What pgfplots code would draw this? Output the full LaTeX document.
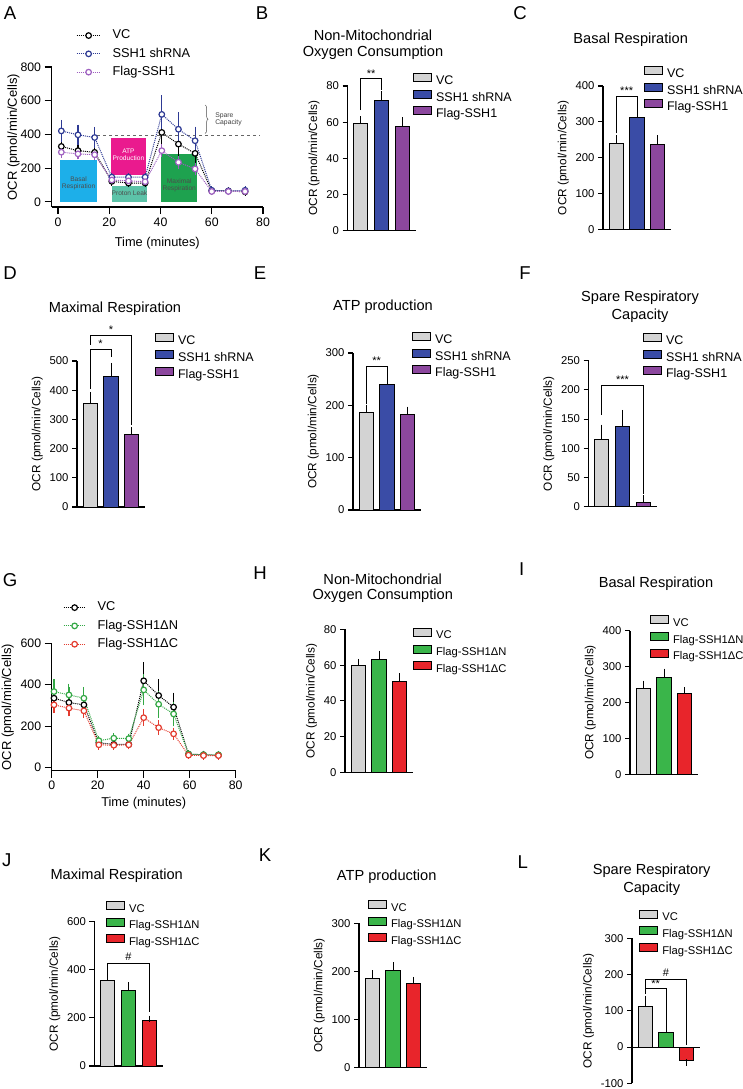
\documentclass[border=0pt]{standalone}
\usepackage{pgfplots}
\pgfplotsset{compat=1.18}
\usepackage{pgfplotstable}
\usepackage{fontspec}
\setmainfont{Liberation Sans}
\usetikzlibrary{decorations.pathreplacing}

\definecolor{cvc}{HTML}{D3D3D3}
\definecolor{cblue}{HTML}{3A4CA6}
\definecolor{cpurp}{HTML}{8C479E}
\definecolor{cgreen}{HTML}{3AB54A}
\definecolor{cred}{HTML}{E8252B}
\definecolor{lblue}{HTML}{2E3A94}
\definecolor{lpurp}{HTML}{9E5FC0}
\definecolor{lgreen}{HTML}{33A845}
\definecolor{lred}{HTML}{E33B2E}
\definecolor{bxbasal}{HTML}{1DAFE9}
\definecolor{bxatp}{HTML}{EA1A8E}
\definecolor{bxleak}{HTML}{5CC3A8}
\definecolor{bxmax}{HTML}{1EA24F}

\pgfplotsset{
  base/.style={
    scale only axis, clip=false,
    axis lines=left, axis line style={-, line width=1.1pt, black},
    tick align=outside, major tick length=5pt,
    tick style={line width=1.1pt, black},
    /pgf/number format/assume math mode=true,
    ticklabel style={font=\fontsize{11.3}{12}\selectfont},
    ylabel={OCR (pmol/min/Cells)},
    ylabel style={font=\fontsize{11.8}{12}\selectfont},
    legend cell align=left,
  },
  bp/.style={base, width=68pt, xmin=0.36, xmax=3.64, xtick=\empty, ymin=0,
    legend style={draw=none, fill=none, inner sep=0pt, anchor=north west,
      font=\fontsize{12.5}{13}\selectfont, row sep=2.4pt,
      nodes={inner sep=0pt, text height=9.3pt, text depth=2.8pt},
      /tikz/every odd column/.append style={column sep=4pt}},
  },
  gp/.style={bp, legend style={font=\fontsize{11.2}{12}\selectfont, row sep=3pt,
      nodes={inner sep=0pt, text height=8.6pt, text depth=2.6pt}}},
  mybar/.style={ybar, bar width=0.68, bar shift=0pt, draw=black, line width=1pt,
    legend image code/.code={\draw[##1, line width=0.9pt] (0pt,-0.3pt) rectangle (18pt,7.7pt);},
    error bars/y dir=plus, error bars/y explicit,
    error bars/error bar style={line width=1pt, black},
    error bars/error mark options={mark size=3.3pt, line width=1pt, black}},
  lp/.style={base, major tick length=7pt,
    ticklabel style={font=\fontsize{12.3}{13}\selectfont},
    ylabel style={font=\fontsize{13}{13}\selectfont},
    xlabel style={font=\fontsize{12.8}{13}\selectfont},
    legend style={draw=none, fill=none, inner sep=0pt, anchor=north west,
      font=\fontsize{12.8}{13}\selectfont, row sep=6pt,
      nodes={inner sep=0pt, text height=9.5pt, text depth=2.8pt},
      /tikz/every odd column/.append style={column sep=11.5pt}},
    legend image code/.code={\draw[mark repeat=2,mark phase=2,##1] plot coordinates {(0pt,0pt) (12pt,0pt) (24pt,0pt)};},
  },
  serie/.style={densely dotted, line width=1pt, mark=*, mark size=2.8pt,
    mark options={solid, line width=1.2pt, fill=white},
    error bars/y dir=both, error bars/y explicit,
    error bars/error bar style={solid, line width=1.1pt},
    error bars/error mark options={solid, mark size=3pt, line width=1.1pt}},
}

\pgfplotstableread{
t    vc  vce  sh  she  fl  fle
1.3  329 38   421 48   295 15
7.8  304 32   398 43   285 15
14.3 294 30   382 45   280 15
21.0 122 8    147 8    130 8
27.5 112 6    147 8    125 8
34.0 112 6    147 8    120 8
40.5 412 75   519 95   304 20
47.0 343 65   431 82   235 20
53.5 288 55   363 65   196 20
60.0 65  5    69  5    62  5
66.5 65  5    65  5    62  5
73.0 60  5    69  5    62  5
}\dataA

\pgfplotstableread{
t    vc  vce  dn  dne  dc  dce
1.0  335 40   367 46   303 25
7.5  314 35   351 40   287 25
14.0 303 30   335 40   274 20
20.5 120 10   130 10   110 10
27.0 112 8    142 10   108 8
33.5 112 8    140 10   110 8
40.0 419 75   375 60   241 25
46.5 348 65   306 50   193 20
53.0 292 55   259 45   163 15
59.5 65  5    65  5    60  5
66.0 62  5    62  5    58  5
72.5 60  5    62  5    58  5
}\dataG

\newcommand{\ttl}[3]{\node[font=\fontsize{14.6}{15}\selectfont, inner sep=0pt] at (#1pt,-#2pt) {#3};}
\newcommand{\lett}[3]{\node[font=\fontsize{18.6}{19}\selectfont, inner sep=0pt] at (#1pt,-#2pt) {#3};}
\newcommand{\sig}{\fontsize{11}{11}\selectfont}

\begin{document}
\begin{tikzpicture}
\path[use as bounding box] (0pt,0pt) rectangle (742pt,-1089pt);

% ---------------- A ----------------
\begin{axis}[lp, at={(51.6pt,-207pt)}, anchor=south west, width=211.4pt, height=140pt,
  xmin=-2.5, xmax=80, ymin=-30, ymax=800, ytick={0,200,...,800}, xtick={0,20,...,80},
  xlabel={Time (minutes)}, xlabel style={yshift=-4pt}, ylabel shift=-6pt,
  legend style={at={(0.115,1.27)}}]
\fill[bxbasal] (axis cs:0.7,0) rectangle (axis cs:15.3,250);
\fill[bxatp] (axis cs:20.7,160) rectangle (axis cs:34.4,380);
\fill[bxleak] (axis cs:21,0) rectangle (axis cs:34.8,95);
\fill[bxmax] (axis cs:40.2,0) rectangle (axis cs:54.3,285);
\draw[dashed, line width=0.5pt, black!60] (axis cs:15.3,395) -- (axis cs:79,395);
\node[align=center, font=\fontsize{6.6}{7.6}\selectfont, text=black!70] at (axis cs:8,110) {Basal\\Respiration};
\node[align=center, font=\fontsize{6.6}{7.6}\selectfont, text=white] at (axis cs:27.5,280) {ATP\\Production};
\node[align=center, font=\fontsize{6.6}{7.6}\selectfont, text=black!70] at (axis cs:27.9,50) {Proton Leak};
\node[align=center, font=\fontsize{6.6}{7.6}\selectfont, text=black!70] at (axis cs:47.3,98) {Maximal\\Respiration};
\draw[decorate, decoration={brace, amplitude=3pt}, line width=0.5pt, black!70] (axis cs:57.4,575) -- (axis cs:57.4,406);
\node[anchor=west, align=left, font=\fontsize{6.8}{7.8}\selectfont, text=black!75] at (axis cs:60,490) {Spare\\Capacity};
\addplot[black, serie] table[x=t, y=vc, y error=vce] {\dataA};
\addplot[lblue, serie] table[x=t, y=sh, y error=she] {\dataA};
\addplot[lpurp, serie] table[x=t, y=fl, y error=fle] {\dataA};
\legend{VC, SSH1 shRNA, Flag-SSH1}
\end{axis}

% ---------------- B ----------------
\begin{axis}[bp, at={(347.5pt,-230.5pt)}, anchor=south west, height=144.5pt, ymax=80, ytick={0,20,...,80},
  legend style={at={(0.963,1.09)}}]
\addplot[fill=cvc, mybar] coordinates {(1,59.5) +- (0,2)};
\addplot[fill=cblue, mybar] coordinates {(2,72) +- (0,3.3)};
\addplot[fill=cpurp, mybar] coordinates {(3,57.8) +- (0,3)};
\legend{VC, SSH1 shRNA, Flag-SSH1}
\draw[line width=1pt] (axis cs:1,66.7) |- (axis cs:2,83.9) -- (axis cs:2,77.8);
\node[anchor=south, inner sep=1.5pt, font=\sig] at (axis cs:1.5,83.9) {**};
\end{axis}

% ---------------- C ----------------
\begin{axis}[bp, at={(603pt,-229.5pt)}, anchor=south west, height=143.5pt, ymax=400, ytick={0,100,...,400},
  legend style={at={(0.603,1.14)}}]
\addplot[fill=cvc, mybar] coordinates {(1,240) +- (0,14)};
\addplot[fill=cblue, mybar] coordinates {(2,312) +- (0,16)};
\addplot[fill=cpurp, mybar] coordinates {(3,238) +- (0,15)};
\legend{VC, SSH1 shRNA, Flag-SSH1}
\draw[line width=1pt] (axis cs:1,268) |- (axis cs:2,372) -- (axis cs:2,333);
\node[anchor=south, inner sep=1.5pt, font=\sig] at (axis cs:1.5,372) {***};
\end{axis}

% ---------------- D ----------------
\begin{axis}[bp, at={(77pt,-507pt)}, anchor=south west, height=146pt, ymax=500, ytick={0,100,...,500},
  legend style={at={(1.147,1.19)}}]
\addplot[fill=cvc, mybar] coordinates {(1,355) +- (0,28)};
\addplot[fill=cblue, mybar] coordinates {(2,447) +- (0,35)};
\addplot[fill=cpurp, mybar] coordinates {(3,247) +- (0,15)};
\legend{VC, SSH1 shRNA, Flag-SSH1}
\draw[line width=1pt] (axis cs:1,405) |- (axis cs:2,541) -- (axis cs:2,515);
\node[anchor=south, inner sep=1.5pt, font=\sig] at (axis cs:1.5,541) {*};
\draw[line width=1pt] (axis cs:1,555) |- (axis cs:3,589) -- (axis cs:3,280);
\node[anchor=south, inner sep=1.5pt, font=\sig] at (axis cs:2,589) {*};
\end{axis}

% ---------------- E ----------------
\begin{axis}[bp, at={(353pt,-510pt)}, anchor=south west, height=157pt, ymax=300, ytick={0,100,...,300},
  legend style={at={(0.868,1.134)}}]
\addplot[fill=cvc, mybar] coordinates {(1,187) +- (0,8)};
\addplot[fill=cblue, mybar] coordinates {(2,240) +- (0,12)};
\addplot[fill=cpurp, mybar] coordinates {(3,182) +- (0,9)};
\legend{VC, SSH1 shRNA, Flag-SSH1}
\draw[line width=1pt] (axis cs:1,203) |- (axis cs:2,275) -- (axis cs:2,252);
\node[anchor=south, inner sep=1.5pt, font=\sig] at (axis cs:1.5,275) {**};
\end{axis}

% ---------------- F ----------------
\begin{axis}[bp, at={(588.5pt,-506.7pt)}, anchor=south west, height=146pt, ymax=250, ytick={0,50,...,250},
  legend style={at={(0.801,1.19)}}]
\addplot[fill=cvc, mybar] coordinates {(1,115) +- (0,20)};
\addplot[fill=cblue, mybar] coordinates {(2,137) +- (0,23)};
\addplot[fill=cpurp, mybar] coordinates {(3,7) +- (0,7)};
\legend{VC, SSH1 shRNA, Flag-SSH1}
\draw[line width=1pt] (axis cs:1,157) |- (axis cs:3,207) -- (axis cs:3,22);
\node[anchor=south, inner sep=2.5pt, font=\sig] at (axis cs:2,207) {***};
\end{axis}

% ---------------- G ----------------
\begin{axis}[lp, at={(51.7pt,-770.7pt)}, anchor=south west, width=184pt, height=127.4pt,
  xmin=0, xmax=80, ymin=-15, ymax=600, ytick={0,200,...,600}, xtick={0,20,...,80},
  xlabel={Time (minutes)}, legend style={at={(0.061,1.33)}},
  legend image code/.code={\draw[mark repeat=2,mark phase=2,#1] plot coordinates {(0pt,0pt) (11pt,0pt) (22pt,0pt)};}]
\addplot[black, serie] table[x=t, y=vc, y error=vce] {\dataG};
\addplot[lgreen, serie] table[x=t, y=dn, y error=dne] {\dataG};
\addplot[lred, serie] table[x=t, y=dc, y error=dce] {\dataG};
\legend{VC, Flag-SSH1ΔN, Flag-SSH1ΔC}
\end{axis}

% ---------------- H ----------------
\begin{axis}[gp, at={(345pt,-772.5pt)}, anchor=south west, height=143.2pt, ymax=80, ytick={0,20,...,80},
  legend style={at={(1.0,1.012)}}]
\addplot[fill=cvc, mybar] coordinates {(1,59.6) +- (0,2)};
\addplot[fill=cgreen, mybar] coordinates {(2,62.9) +- (0,3.3)};
\addplot[fill=cred, mybar] coordinates {(3,51.1) +- (0,2.4)};
\legend{VC, Flag-SSH1ΔN, Flag-SSH1ΔC}
\end{axis}

% ---------------- I ----------------
\begin{axis}[gp, at={(630pt,-774.3pt)}, anchor=south west, height=143.6pt, ymax=400, ytick={0,100,...,400},
  legend style={at={(0.294,1.11)}}]
\addplot[fill=cvc, mybar] coordinates {(1,239) +- (0,13)};
\addplot[fill=cgreen, mybar] coordinates {(2,270) +- (0,15)};
\addplot[fill=cred, mybar] coordinates {(3,224) +- (0,10)};
\legend{VC, Flag-SSH1ΔN, Flag-SSH1ΔC}
\end{axis}

% ---------------- J ----------------
\begin{axis}[gp, at={(94.5pt,-1066pt)}, anchor=south west, height=144.3pt, ymax=600, ytick={0,200,...,600},
  legend style={at={(0.169,1.145)}}]
\addplot[fill=cvc, mybar] coordinates {(1,355) +- (0,30)};
\addplot[fill=cgreen, mybar] coordinates {(2,312) +- (0,23)};
\addplot[fill=cred, mybar] coordinates {(3,188) +- (0,8)};
\legend{VC, Flag-SSH1ΔN, Flag-SSH1ΔC}
\draw[line width=1pt] (axis cs:1,392) |- (axis cs:3,427) -- (axis cs:3,226);
\node[anchor=south, inner sep=2.5pt, font=\sig] at (axis cs:2,427) {\#};
\end{axis}

% ---------------- K ----------------
\begin{axis}[gp, at={(359pt,-1067.7pt)}, anchor=south west, height=144.4pt, ymax=300, ytick={0,100,...,300},
  legend style={at={(0.132,1.163)}}]
\addplot[fill=cvc, mybar] coordinates {(1,186) +- (0,10)};
\addplot[fill=cgreen, mybar] coordinates {(2,201) +- (0,11)};
\addplot[fill=cred, mybar] coordinates {(3,174) +- (0,8)};
\legend{VC, Flag-SSH1ΔN, Flag-SSH1ΔC}
\end{axis}

% ---------------- L ----------------
\begin{axis}[gp, at={(632pt,-1083.3pt)}, anchor=south west, height=145pt, ymin=-100, ymax=300, ytick={-100,0,...,300},
  axis x line=middle, every inner x axis line/.append style={-},
  legend style={at={(0.107,1.2)}}]
\addplot[fill=cvc, mybar] coordinates {(1,113) +- (0,20)};
\addplot[fill=cgreen, mybar] coordinates {(2,40) +- (0,14)};
\addplot[fill=cred, mybar, error bars/y dir=minus] coordinates {(3,-38) +- (0,5)};
\legend{VC, Flag-SSH1ΔN, Flag-SSH1ΔC}
\draw[line width=1pt] (axis cs:1,146) |- (axis cs:2,161) -- (axis cs:2,60);
\node[anchor=south, inner sep=1.5pt, font=\sig] at (axis cs:1.5,161) {**};
\draw[line width=1pt] (axis cs:1,161) |- (axis cs:3,186) -- (axis cs:3,5);
\node[anchor=south, inner sep=2.5pt, font=\sig] at (axis cs:2,186) {\#};
\end{axis}

% ---------------- titles and letters ----------------
\lett{10}{13}{A} \lett{262}{13}{B} \lett{520}{13}{C}
\lett{10}{273}{D} \lett{260}{273}{E} \lett{525}{273}{F}
\lett{10}{580}{G} \lett{260}{573}{H} \lett{521.7}{569.3}{I}
\lett{6.7}{860}{J} \lett{265}{855}{K} \lett{522.7}{861.7}{L}

\ttl{373}{35}{Non-Mitochondrial} \ttl{373}{53}{Oxygen Consumption}
\ttl{630.7}{40}{Basal Respiration}
\ttl{115}{309}{Maximal Respiration}
\ttl{383}{307}{ATP production}
\ttl{640}{298}{Spare Respiratory} \ttl{640}{316}{Capacity}
\ttl{382.7}{579.3}{Non-Mitochondrial} \ttl{382.7}{596}{Oxygen Consumption}
\ttl{656}{583.3}{Basal Respiration}
\ttl{116.7}{875.7}{Maximal Respiration}
\ttl{386.7}{876.7}{ATP production}
\ttl{651.7}{871}{Spare Respiratory} \ttl{651.7}{888.3}{Capacity}
\end{tikzpicture}
\end{document}
